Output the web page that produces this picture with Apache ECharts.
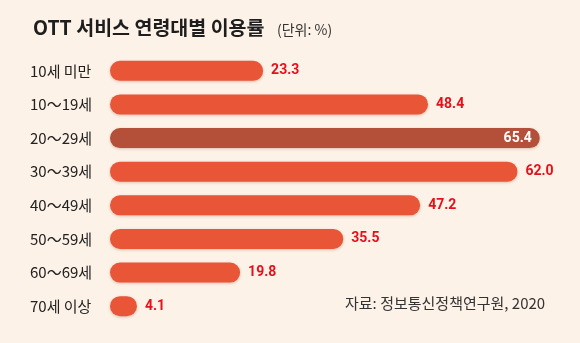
<!DOCTYPE html>
<html><head><meta charset="utf-8">
<script src="https://cdn.jsdelivr.net/npm/echarts@6/dist/echarts.min.js"></script>
<style>html,body{margin:0;padding:0;background:#fdf2e7;}#c{width:580px;height:343px;}</style>
</head><body><div id="c"></div>
<script>
const categories = ['10세 미만','10～19세','20～29세','30～39세','40～49세','50～59세','60～69세','70세 이상'];
const values = [23.3, 48.4, 65.4, 62.0, 47.2, 35.5, 19.8, 4.1];
const highlightIndex = 2;
const titleText = 'OTT 서비스 연령대별 이용률';
const unitText = '(단위: %)';
const sourceText = '자료: 정보통신정책연구원, 2020';

const chart = echarts.init(document.getElementById('c'));
const font = '"Noto Sans CJK KR","Noto Sans",sans-serif';
const numFont = '"Liberation Sans Narrow","Roboto",sans-serif';
chart.setOption({
  backgroundColor: '#fdf2e7',
  animation: false,
  title: [
    {text: titleText, left: 28, top: 13, textStyle: {fontFamily: font, fontSize: 19.5, fontWeight: 'bold', color: '#1e1e1e'}},
    {text: unitText, left: 272, top: 18, textStyle: {fontFamily: font, fontSize: 14, fontWeight: 'normal', color: '#333'}},
    {text: sourceText, left: 340, top: 291, textStyle: {fontFamily: font, fontSize: 15, fontWeight: 'normal', color: '#333'}}
  ],
  grid: {left: 110, top: 54, width: 460, height: 269, containLabel: false},
  xAxis: {type: 'value', min: 0, max: 70, show: false},
  yAxis: {
    type: 'category', data: categories, inverse: true,
    axisLine: {show: false}, axisTick: {show: false},
    axisLabel: {margin: 80, align: 'left', fontFamily: font, fontSize: 15, color: '#222'}
  },
  series: [{
    type: 'bar',
    barWidth: 20,
    data: values.map((v, i) => ({
      value: v,
      itemStyle: {color: i === highlightIndex ? '#b4503a' : '#e95637'},
      label: i === highlightIndex
        ? {show: true, position: 'insideRight', distance: 8, color: '#fff', fontFamily: numFont, fontWeight: 'bold', fontSize: 14}
        : {show: true, position: 'right', distance: 8, color: '#e5101c', fontFamily: numFont, fontWeight: 'bold', fontSize: 14}
    })),
    itemStyle: {borderRadius: 10, shadowColor: 'rgba(120,40,20,0.25)', shadowBlur: 3, shadowOffsetY: 1},
    label: {formatter: p => p.value.toFixed(1)}
  }]
});
</script></body></html>
